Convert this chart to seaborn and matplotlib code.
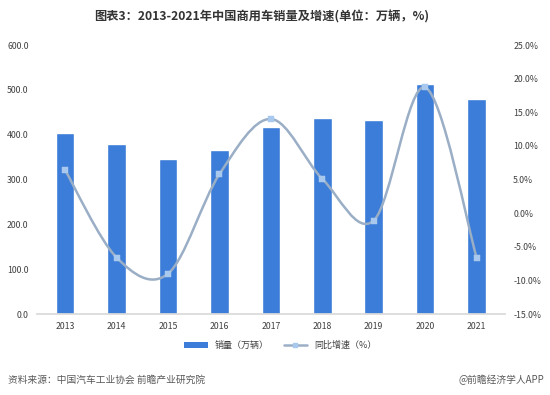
import numpy as np
import pandas as pd
import seaborn as sns
from matplotlib import pyplot as plt
from matplotlib.path import Path
from matplotlib.patches import PathPatch
from matplotlib.lines import Line2D
from matplotlib.patches import Patch

years = ["2013", "2014", "2015", "2016", "2017", "2018", "2019", "2020", "2021"]
sales = [403.2, 379.1, 345.1, 365.1, 416.1, 437.1, 432.4, 513.3, 479.3]
growth = [6.4, -6.6, -9.0, 5.8, 14.0, 5.1, -1.1, 18.7, -6.6]

bar_color = "#3b7dd8"
line_color = "#9aaec6"
marker_color = "#a8c8ee"

sns.set_theme(style="white")
plt.rcParams['font.family'] = ['Noto Sans CJK SC', 'DejaVu Sans']

df = pd.DataFrame({"year": years, "sales": sales, "growth": growth})

fig = plt.figure(figsize=(5.5, 3.95), dpi=100)
ax = fig.add_axes([0.067, 0.205, 0.851, 0.681])
sns.barplot(data=df, x="year", y="sales", color=bar_color, width=0.36,
            saturation=1, ax=ax)
ax.set_ylim(0, 600)
ax.set_yticks(np.arange(0, 601, 100))
ax.set_yticklabels([f"{v:.1f}" for v in np.arange(0, 601, 100)])
ax.set_xlabel("")
ax.set_ylabel("")
for s in ["top", "right", "left"]:
    ax.spines[s].set_visible(False)
ax.spines["bottom"].set_color("#d9d9d9")
ax.tick_params(axis="both", labelsize=6.3, colors="#404040", length=0, pad=6)

ax2 = ax.twinx()
ax2.set_ylim(-15, 25)
ax2.set_yticks(np.arange(-15, 26, 5))
ax2.set_yticklabels([f"{v:.1f}%" for v in np.arange(-15, 26, 5)])
for s in ["top", "right", "left", "bottom"]:
    ax2.spines[s].set_visible(False)
ax2.tick_params(axis="y", labelsize=6.3, colors="#404040", length=0, pad=6)

# smoothed line (Excel-like), Catmull-Rom as Bezier segments
xs = np.arange(len(years), dtype=float)
ys = np.array(growth, dtype=float)
verts = [(xs[0], ys[0])]
codes = [Path.MOVETO]
t = 1 / 6
for i in range(len(xs) - 1):
    p0 = (xs[max(i - 1, 0)], ys[max(i - 1, 0)])
    p1 = (xs[i], ys[i])
    p2 = (xs[i + 1], ys[i + 1])
    p3 = (xs[min(i + 2, len(xs) - 1)], ys[min(i + 2, len(xs) - 1)])
    c1 = (p1[0] + (p2[0] - p0[0]) * t, p1[1] + (p2[1] - p0[1]) * t)
    c2 = (p2[0] - (p3[0] - p1[0]) * t, p2[1] - (p3[1] - p1[1]) * t)
    verts += [c1, c2, p2]
    codes += [Path.CURVE4] * 3
ax2.add_patch(PathPatch(Path(verts, codes), facecolor="none",
                        edgecolor=line_color, lw=1.8, zorder=3))
sns.scatterplot(x=xs, y=ys, marker="s", s=18, color=marker_color,
                edgecolor=marker_color, ax=ax2, zorder=4)
ax.set_xlim(-0.55, len(years) - 0.45)

fig.text(0.475, 0.958, "图表3：2013-2021年中国商用车销量及增速(单位：万辆，%)",
         ha="center", va="center", fontsize=8.8, fontweight="bold", color="#333333")

handles = [Patch(facecolor=bar_color, edgecolor="none"),
           Line2D([0], [0], color=line_color, lw=1.8, marker="s",
                  markersize=3.5, markerfacecolor=marker_color,
                  markeredgecolor=marker_color)]
fig.legend(handles, ["销量（万辆）", "同比增速（%）"], loc="center",
           bbox_to_anchor=(0.51, 0.125), ncol=2, frameon=False,
           fontsize=6.5, handlelength=2.6, handleheight=0.5,
           columnspacing=1.6, labelcolor="#404040")

fig.text(0.015, 0.038, "资料来源：中国汽车工业协会 前瞻产业研究院",
         fontsize=7, color="#595959", va="center")
fig.text(0.99, 0.038, "@前瞻经济学人APP", fontsize=7, color="#595959",
         va="center", ha="right")

fig.savefig("out.png", dpi=100, facecolor="white")
